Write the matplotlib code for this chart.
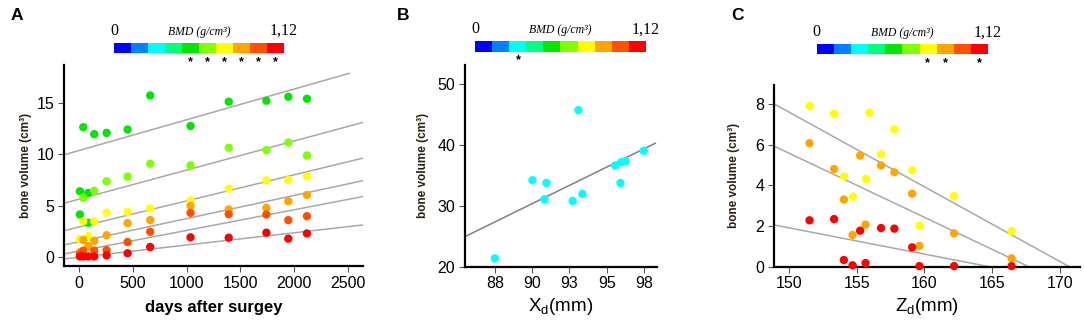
import numpy as np
import matplotlib
matplotlib.use("Agg")
import matplotlib.pyplot as plt
from matplotlib.colors import ListedColormap

plt.rcParams['font.family'] = ['Liberation Sans', 'DejaVu Sans']

# BMD colour scale (10 bins, 0 .. 1,12 g/cm3)
bmd_colors = ['#0000ff', '#0080ff', '#00ffff', '#00ff80', '#00e600',
              '#80ff00', '#ffff00', '#ffa500', '#ff5000', '#ff0000']
stars_a = [4, 5, 6, 7, 8, 9]
stars_b = [2]
stars_c = [6, 7, 9]

# ---- panel A: bone volume vs days after surgery, per BMD bin
a_bins = [4, 5, 6, 7, 8, 9]
a_days = [
    [9, 9, 40, 87, 87, 142, 257, 452, 662, 1037, 1392, 1742, 1946, 2119],
    [40, 142, 257, 452, 662, 1037, 1392, 1742, 1946, 2119],
    [9, 40, 87, 142, 257, 452, 662, 1037, 1392, 1742, 1946, 2119],
    [9, 40, 87, 142, 257, 452, 662, 1037, 1392, 1742, 1946, 2119],
    [9, 40, 142, 257, 452, 662, 1037, 1392, 1742, 1946, 2119],
    [9, 40, 87, 142, 257, 452, 662, 1037, 1392, 1742, 1946, 2119],
]
a_vol = [
    [6.42, 4.16, 12.65, 6.26, 3.35, 11.97, 12.10, 12.42, 15.74, 12.77, 15.13, 15.23, 15.61, 15.42],
    [5.77, 6.48, 7.39, 7.84, 9.10, 8.94, 10.65, 10.42, 11.16, 9.90],
    [1.77, 3.50, 2.06, 3.49, 4.34, 4.42, 4.74, 5.52, 6.68, 7.48, 7.52, 7.87],
    [0.50, 1.68, 1.08, 1.60, 2.14, 3.32, 3.61, 5.00, 4.65, 4.81, 5.45, 6.06],
    [0.30, 0.64, 0.64, 0.70, 1.48, 2.48, 4.32, 4.19, 4.16, 3.61, 4.00],
    [0.08, 0.08, 0.08, 0.08, 0.19, 0.39, 1.00, 1.94, 1.90, 2.39, 1.81, 2.32],
]
a_fit_b0 = [10.38, 5.65, 2.94, 1.51, 0.60, 0.0]
a_fit_b1 = [0.00299, 0.00283, 0.00254, 0.00225, 0.00201, 0.00119]

# ---- panel B: bone volume vs Xd
b_x = [88.0, 90.52, 91.33, 91.46, 93.22, 93.60, 93.87, 96.06, 96.42, 96.48, 96.77, 97.98]
b_vol = [21.37, 34.23, 31.10, 33.79, 30.82, 45.77, 31.98, 36.65, 33.79, 37.20, 37.36, 39.07]
b_fit = (-78.68, 1.205)

# ---- panel C: bone volume vs Zd
c_bins = [6, 7, 9]
c_z = [
    [151.55, 153.34, 155.95, 157.79, 156.81, 154.06, 155.70, 154.72, 159.10, 162.20, 159.64, 166.45],
    [151.52, 153.34, 155.26, 156.81, 157.79, 154.06, 159.10, 155.66, 154.70, 159.64, 162.20, 166.45],
    [151.52, 153.34, 155.26, 156.81, 157.79, 159.10, 154.06, 154.70, 155.66, 159.64, 162.20, 166.45],
]
c_vol = [
    [7.90, 7.52, 7.57, 6.74, 5.52, 4.44, 4.31, 3.44, 4.74, 3.48, 2.02, 1.75],
    [6.07, 4.80, 5.46, 4.98, 4.64, 3.30, 3.59, 2.07, 1.56, 1.02, 1.64, 0.41],
    [2.28, 2.34, 1.77, 1.90, 1.87, 0.95, 0.33, 0.07, 0.18, 0.03, 0.03, 0.03],
]
c_fit_b0 = [62.65, 52.83, 21.26]
c_fit_b1 = [-0.367, -0.315, -0.129]

W, H = 1084, 327
fig = plt.figure(figsize=(W / 100, H / 100), dpi=100)


def px_axes(x0, x1, y0, y1):
    return fig.add_axes([x0 / W, 1 - y1 / H, (x1 - x0) / W, (y1 - y0) / H])


def style(ax):
    for s in ['top', 'right']:
        ax.spines[s].set_visible(False)
    for s in ['left', 'bottom']:
        ax.spines[s].set_linewidth(1.6)
    ax.tick_params(direction='out', length=4, width=0.8, labelsize=11.5, pad=3,
                   color='#555555')


def colorbar(x0, x1, y0, y1, stars):
    cax = px_axes(x0, x1, y0, y1)
    cax.imshow(np.arange(10)[None, :], cmap=ListedColormap(bmd_colors),
               aspect='auto', extent=(0, 10, 0, 1))
    cax.set_xlim(0, 10)
    cax.set_ylim(0, 1)
    cax.axis('off')
    cax.text(0, 1.35, '0', ha='center', va='bottom', fontsize=11.5,
             family='Liberation Serif')
    cax.text(10, 1.35, '1,12', ha='center', va='bottom', fontsize=11.5,
             family='Liberation Serif')
    cax.text(5, 1.45, 'BMD (g/cm³)', ha='center', va='bottom', fontsize=8.5,
             family='Liberation Serif', style='italic')
    for k in stars:
        cax.text(k + 0.5, -0.25, '*', ha='center', va='top', fontsize=9,
                 fontweight='bold')


ylab_kw = dict(fontsize=8.5, fontweight='bold', color='#2a2010')

# ---- A
ax = px_axes(64, 363, 65, 266)
style(ax)
xlo, xhi = -139, 2640
for b0, b1, xe in zip(a_fit_b0, a_fit_b1, [2510, xhi, xhi, xhi, xhi, xhi]):
    xs = np.array([xlo, xe])
    ax.plot(xs, b0 + b1 * xs, color='#a8a8a8', lw=1.1, zorder=1)
for k, d, v in zip(a_bins, a_days, a_vol):
    ax.scatter(d, v, s=36, color=bmd_colors[k], edgecolors='none', zorder=3,
               clip_on=False)
ax.set_xlim(xlo, xhi)
ax.set_ylim(-0.85, 18.7)
ax.set_xticks([0, 500, 1000, 1500, 2000, 2500])
ax.set_yticks([0, 5, 10, 15])
ax.set_xlabel('days after surgey', fontsize=12, fontweight='bold', labelpad=7)
ax.set_ylabel('bone volume (cm³)', labelpad=3, **ylab_kw)
colorbar(114, 284, 42.7, 53.3, stars_a)
fig.text(17 / W, 1 - 16 / H, 'A', fontsize=12.5, fontweight='bold',
         ha='center', va='center')

# ---- B
ax = px_axes(465, 657, 65, 266.7)
style(ax)
xs = np.array([86.0, 98.76])
ax.plot(xs, b_fit[0] + b_fit[1] * xs, color='#808080', lw=1.1, zorder=1)
ax.scatter(b_x, b_vol, s=36, color=bmd_colors[2], edgecolors='none', zorder=3)
ax.set_xlim(86, 98.87)
ax.set_ylim(20, 53.2)
ax.set_xticks([88, 90.5, 93, 95.5, 98])
ax.set_xticklabels(['88', '90', '93', '95', '98'])
ax.set_yticks([20, 30, 40, 50])
ax.set_xlabel('X$_\\mathregular{d}$(mm)', fontsize=13.5, labelpad=3)
ax.set_ylabel('bone volume (cm³)', labelpad=6, **ylab_kw)
colorbar(475.3, 646, 41, 51.7, stars_b)
fig.text(403 / W, 1 - 16 / H, 'B', fontsize=12.5, fontweight='bold',
         ha='center', va='center')

# ---- C
ax = px_axes(774, 1080, 85, 266.7)
style(ax)
clo = 148.9
for b0, b1 in zip(c_fit_b0, c_fit_b1):
    xs = np.array([clo, -b0 / b1])
    ax.plot(xs, b0 + b1 * xs, color='#a8a8a8', lw=1.1, zorder=1)
for k, z, v in zip(c_bins, c_z, c_vol):
    ax.scatter(z, v, s=36, color=bmd_colors[k], edgecolors='none', zorder=3,
               clip_on=False)
ax.set_xlim(clo, 171.5)
ax.set_ylim(0, 8.93)
ax.set_xticks([150, 155, 160, 165, 170])
ax.set_yticks([0, 2, 4, 6, 8])
ax.set_xlabel('Z$_\\mathregular{d}$(mm)', fontsize=13.5, labelpad=3)
ax.set_ylabel('bone volume (cm³)', labelpad=11, **ylab_kw)
colorbar(816.7, 987.7, 44, 54.3, stars_c)
fig.text(738 / W, 1 - 16 / H, 'C', fontsize=12.5, fontweight='bold',
         ha='center', va='center')

fig.savefig('out.png', dpi=100)
